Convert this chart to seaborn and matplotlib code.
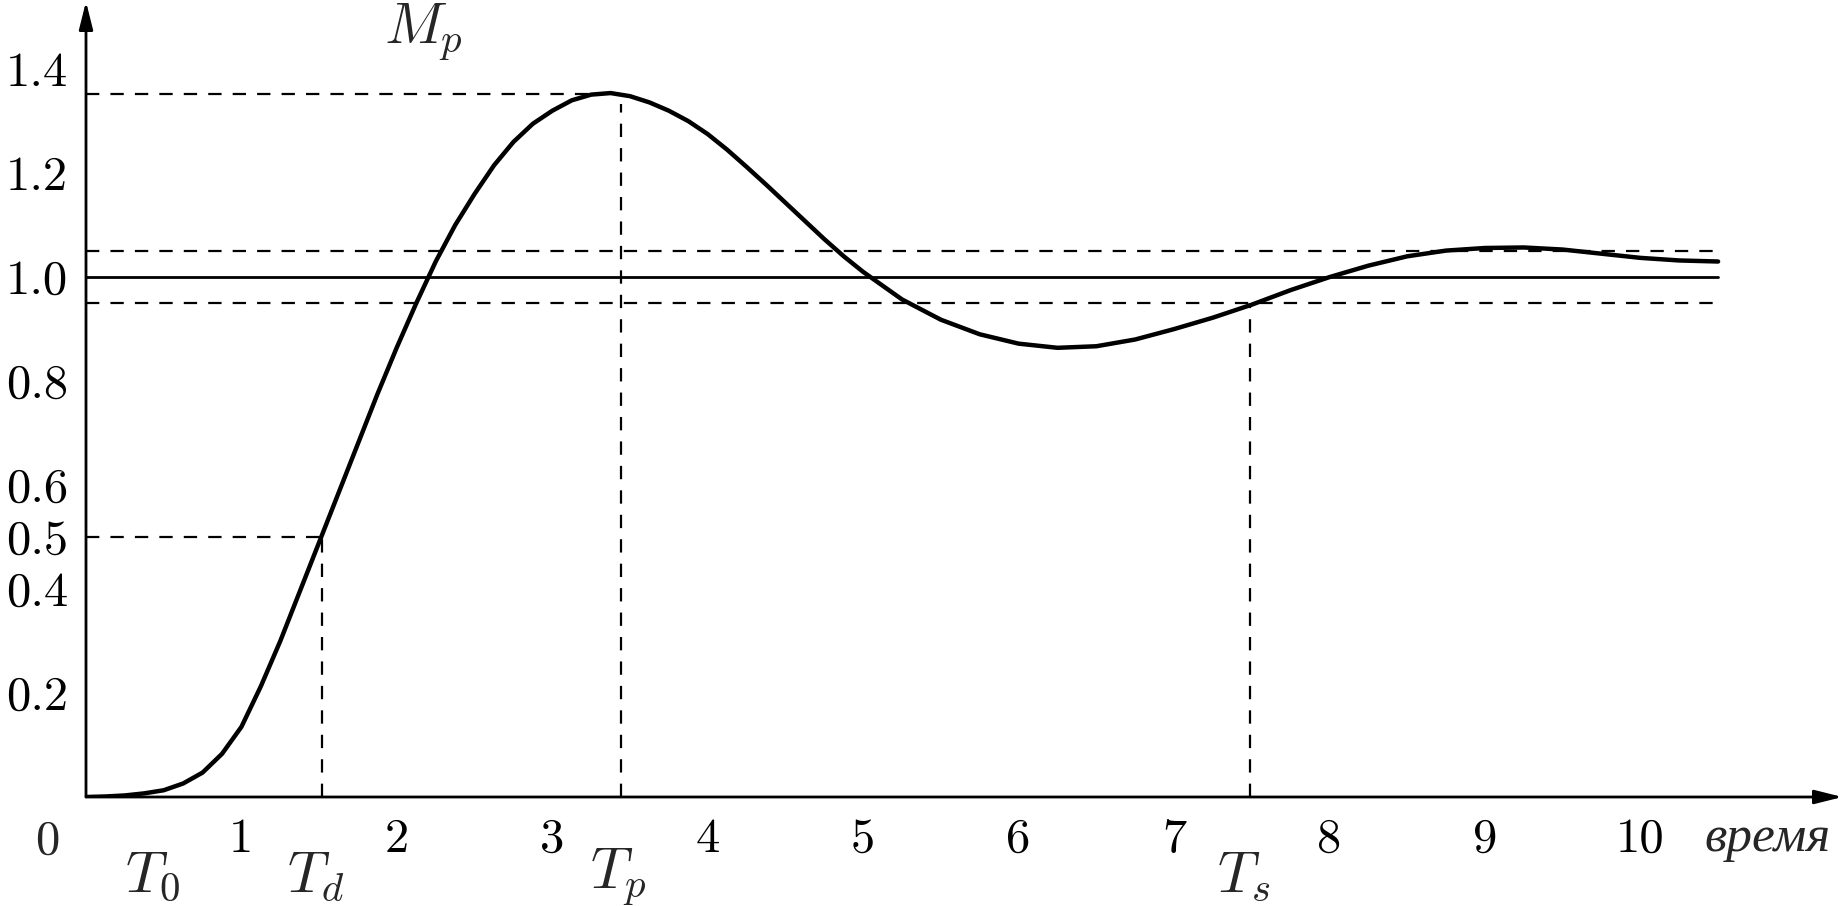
import matplotlib
matplotlib.use('Agg')
import matplotlib.pyplot as plt
import seaborn as sns
import pandas as pd

# --- данные ---
t = [0, 0.125, 0.25, 0.375, 0.5, 0.625, 0.75, 0.875, 1.0, 1.125, 1.25, 1.375, 1.5, 1.625,
     1.75, 1.875, 2.0, 2.125, 2.25, 2.375, 2.5, 2.625, 2.75, 2.875, 3.0, 3.125, 3.25, 3.375,
     3.5, 3.625, 3.75, 3.875, 4.0, 4.125, 4.25, 4.375, 4.5, 4.625, 4.75, 4.875, 5.0,
     5.25, 5.5, 5.75, 6.0, 6.25, 6.5, 6.75, 7.0, 7.25, 7.5, 7.75, 8.0, 8.25, 8.5, 8.75,
     9.0, 9.25, 9.5, 9.75, 10.0, 10.25, 10.5]
otklik = [0, 0.001, 0.003, 0.007, 0.013, 0.026, 0.047, 0.083, 0.135, 0.213, 0.30, 0.395, 0.49, 0.585,
          0.68, 0.775, 0.865, 0.95, 1.03, 1.10, 1.16, 1.215, 1.26, 1.295, 1.32, 1.34, 1.351, 1.354,
          1.348, 1.336, 1.32, 1.30, 1.275, 1.245, 1.212, 1.178, 1.143, 1.108, 1.073, 1.04, 1.01,
          0.957, 0.918, 0.89, 0.872, 0.864, 0.867, 0.88, 0.90, 0.922, 0.947, 0.975, 1.0, 1.022, 1.04, 1.051,
          1.056, 1.057, 1.053, 1.045, 1.037, 1.032, 1.03]

x_ticks = [1, 2, 3, 4, 5, 6, 7, 8, 9, 10]
y_ticks = [0.2, 0.4, 0.5, 0.6, 0.8, 1.0, 1.2, 1.4]
y_labels = ['0.2', '0.4', '0.5', '0.6', '0.8', '1.0', '1.2', '1.4']

# характерные точки
T_d, y_d = 1.52, 0.5
T_p, M_p = 3.44, 1.352
T_s = 7.49
band_hi, band_lo = 1.05, 0.95
t_end = 10.5
time_labels = [('$T_0$', 0.43), ('$T_d$', 1.48), ('$T_p$', 3.42), ('$T_s$', 7.45)]

df = pd.DataFrame({'t': t, 'y': otklik})

sns.set_theme(style='white')
plt.rcParams['mathtext.fontset'] = 'cm'
plt.rcParams['font.family'] = ['cmr10', 'DejaVu Serif']
plt.rcParams['axes.formatter.use_mathtext'] = True

fig = plt.figure(figsize=(18.44, 9.06), dpi=100)
ax = fig.add_axes([86 / 1844, 109 / 906, 1 - 86 / 1844, 797 / 906])
ax.set_xlim(0, 11.31)
ax.set_ylim(0, 1.533)
for s in ax.spines.values():
    s.set_visible(False)

# вспомогательные линии
dash = dict(color='black', lw=1.6, linestyle=(0, (6, 5)))
ax.plot([0, 3.3], [M_p, M_p], **dash)
ax.plot([T_p, T_p], [0, M_p - 0.02], **dash)
ax.plot([0, T_d], [y_d, y_d], **dash)
ax.plot([T_d, T_d], [0, y_d], **dash)
ax.plot([0, t_end], [band_hi, band_hi], **dash)
ax.plot([0, t_end], [band_lo, band_lo], **dash)
ax.plot([T_s, T_s], [0, band_lo], **dash)
ax.plot([0, t_end], [1.0, 1.0], color='black', lw=2.0)

# переходная характеристика
sns.lineplot(data=df, x='t', y='y', ax=ax, color='black', linewidth=3.2,
             solid_joinstyle='round', solid_capstyle='round')

# оси со стрелками
arr = dict(arrowstyle='-|>,head_length=1.4,head_width=0.35', color='black', lw=2.0, shrinkA=0, shrinkB=0)
ax.annotate('', xy=(11.3, 0), xytext=(0, 0), arrowprops=arr, annotation_clip=False)
ax.annotate('', xy=(0, 1.53), xytext=(0, 0), arrowprops=arr, annotation_clip=False)

ax.set_xticks(x_ticks)
ax.set_xticklabels([str(v) for v in x_ticks])
ax.set_yticks(y_ticks)
ax.set_yticklabels(y_labels)
ax.tick_params(axis='both', direction='in', length=10, width=1.6, color='black',
               labelsize=35, labelcolor='black')
ax.tick_params(axis='x', pad=15)
ax.tick_params(axis='y', pad=13)
ax.set_xlabel('')
ax.set_ylabel('')

ax.text(-0.25, -0.085, '0', fontsize=35, ha='center', va='center')
for lab, xpos in time_labels:
    ax.text(xpos, -0.155, lab, fontsize=42, ha='center', va='center')
ax.text(2.17, 1.47, '$M_p$', fontsize=42, ha='center', va='center')
ax.text(10.82, -0.08, 'время', fontsize=37, ha='center', va='center',
        family=['Liberation Serif', 'DejaVu Serif'], style='italic')

fig.savefig('out.png', dpi=100)
